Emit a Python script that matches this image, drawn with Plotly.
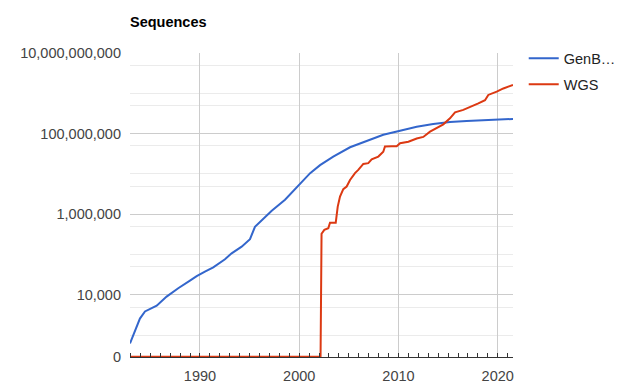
import plotly.graph_objects as go

# ---- data ----
genbank_years = [1982.95, 1983.95, 1984.46, 1985.64, 1986.64, 1987.81, 1988.99, 1989.67,
                 1990.5, 1991.34, 1992.52, 1993.19, 1994.2, 1995.04, 1995.54, 1996.55,
                 1997.23, 1998.57, 1999.57, 2000.0, 2001.1, 2002.1, 2003.43, 2005.12,
                 2006.8, 2008.47, 2010.16, 2011.84, 2013.5, 2015.19, 2016.87, 2018.55,
                 2020.23, 2021.54]
genbank_values = [630, 2600, 3900, 5400, 9100, 14700, 22600, 29300,
                  38000, 48600, 77000, 108000, 158000, 241000, 490000, 877000,
                  1230000, 2300000, 4100000, 5400000, 10500000, 16600000, 27000000, 46000000,
                  66000000, 94000000, 118000000, 148000000, 173000000, 195000000, 205000000, 214000000,
                  224000000, 232000000]

wgs_years = [1982.95, 2002.15, 2002.25, 2002.53, 2002.93, 2003.1, 2003.68, 2003.88, 2004.11,
             2004.44, 2004.78, 2005.12, 2005.62, 2005.95, 2006.46, 2006.96, 2007.3,
             2007.97, 2008.47, 2008.64, 2009.32, 2009.82, 2010.16, 2011.0, 2011.84,
             2012.5, 2013.18, 2013.85, 2014.52, 2015.19, 2015.7, 2016.53, 2017.38,
             2018.05, 2018.72, 2019.05, 2019.9, 2020.57, 2021.54]
wgs_values = [0, 0, 330000, 410000, 450000, 620000, 620000, 1550000, 2750000,
              4200000, 4900000, 7100000, 10500000, 12600000, 17800000, 18600000, 23000000,
              27000000, 35500000, 48000000, 49000000, 49000000, 58000000, 63000000, 76000000,
              83000000, 112000000, 135000000, 170000000, 240000000, 339000000, 389000000, 468000000,
              562000000, 676000000, 912000000, 1100000000, 1320000000, 1620000000]

series_names = ["GenB…", "WGS"]
x_tick_values = [1990, 2000, 2010, 2020]
x_tick_labels = ["1990", "2000", "2010", "2020"]
y_tick_values = [1e10, 1e8, 1e6, 1e4]
y_tick_labels = ["10,000,000,000", "100,000,000", "1,000,000", "10,000"]
y_minor_values = [5e9, 1e9, 5e8, 5e7, 1e7, 5e6, 5e5, 1e5, 5e4, 5e3, 1e3]

# the "0" level of the mirrored-log axis sits at the bottom of the plot
ZERO_LEVEL = 10 ** 2.47
Y_RANGE = [2.462, 10.0]
X_RANGE = [1982.95, 2021.54]


def to_axis(values):
    return [v if v > 0 else ZERO_LEVEL for v in values]


FONT = "Liberation Sans, Arial, sans-serif"
FS = 14.5

fig = go.Figure()
fig.add_trace(go.Scatter(x=genbank_years, y=to_axis(genbank_values), name=series_names[0],
                         mode="lines", line=dict(color="#3366cc", width=2)))
fig.add_trace(go.Scatter(x=wgs_years, y=to_axis(wgs_values), name=series_names[1],
                         mode="lines", line=dict(color="#dc3912", width=2)))

fig.update_layout(
    width=640, height=391,
    margin=dict(l=130, r=127, t=53, b=34),
    paper_bgcolor="white", plot_bgcolor="white",
    font=dict(family=FONT, size=FS, color="#444444"),
    title=dict(text="<b>Sequences</b>", x=130 / 640, xanchor="left",
               y=1 - 22 / 391, yanchor="middle",
               font=dict(family=FONT, size=FS, color="#000000")),
    showlegend=True,
    legend=dict(x=1.028, xanchor="left", y=1.035, yanchor="top",
                font=dict(family=FONT, size=FS, color="#222222"),
                bgcolor="rgba(0,0,0,0)", tracegroupgap=4),
    xaxis=dict(range=X_RANGE, tickmode="array", tickvals=x_tick_values, ticktext=x_tick_labels,
               showgrid=True, gridcolor="#cccccc", gridwidth=1, zeroline=False,
               showline=True, linecolor="#333333", linewidth=1, automargin=False,
               ticks="", ticklabelstandoff=6,
               minor=dict(tickmode="linear", tick0=1980, dtick=1, ticks="inside",
                          ticklen=4, tickcolor="#333333", tickwidth=1, showgrid=False),
               tickfont=dict(family=FONT, size=FS, color="#444444")),
    yaxis=dict(type="log", range=Y_RANGE, tickmode="array", automargin=False,
               tickvals=y_tick_values + [ZERO_LEVEL], ticktext=y_tick_labels + ["0"],
               showgrid=True, gridcolor="#cccccc", gridwidth=1, zeroline=False,
               showline=False, ticks="", ticklabelstandoff=8,
               minor=dict(tickmode="array", tickvals=y_minor_values, showgrid=True,
                          gridcolor="#ebebeb", gridwidth=1, ticks=""),
               tickfont=dict(family=FONT, size=FS, color="#444444")),
)
for i, tr in enumerate(fig.data):
    tr.legendgroup = f"g{i}"

fig.write_html("out.html", config={"displayModeBar": False},
               post_script="document.body.style.margin='0';document.body.style.overflow='hidden';")
